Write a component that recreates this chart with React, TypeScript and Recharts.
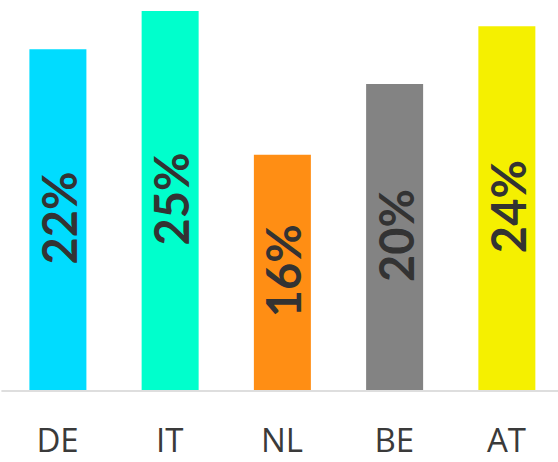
import { BarChart, Bar, XAxis, YAxis, Cell, LabelList } from 'recharts'

const COUNTRIES = ['DE', 'IT', 'NL', 'BE', 'AT']
const SHARES = [22.49, 25, 15.55, 20.2, 24.0]
const COLORS = ['#00dcff', '#00ffcc', '#ff8e14', '#838383', '#f5f000']

const data = COUNTRIES.map((name, i) => ({ name, share: SHARES[i] }))

function InsideLabel(props: any) {
  const { x, y, width, height, value } = props
  const cx = x + width / 2 + 1
  const cy = y + height / 2 - 2
  return (
    <text
      x={cx}
      y={cy}
      transform={`rotate(-90 ${cx} ${cy})`}
      textAnchor="middle"
      dominantBaseline="central"
      fill="#333333"
      fontSize={47}
      fontWeight={700}
      fontFamily="Lato"
    >
      {Math.round(value)}%
    </text>
  )
}

export default function App() {
  return (
    <div style={{ position: 'absolute', left: 0, top: 0 }}>
      <BarChart
        width={564}
        height={462}
        data={data}
        margin={{ top: 11, right: 1.4, left: 1.4, bottom: 0 }}
        barSize={57}
      >
        <XAxis
          dataKey="name"
          height={71}
          axisLine={{ stroke: '#dedede', strokeWidth: 2 }}
          tickLine={false}
          tick={{ fontSize: 33, fill: '#3a3a3a', fontFamily: 'Open Sans', dy: 30 }}
        />
        <YAxis hide domain={[0, 25]} />
        <Bar dataKey="share" isAnimationActive={false}>
          {data.map((_, i) => (
            <Cell key={i} fill={COLORS[i]} />
          ))}
          <LabelList dataKey="share" content={InsideLabel} />
        </Bar>
      </BarChart>
    </div>
  )
}
